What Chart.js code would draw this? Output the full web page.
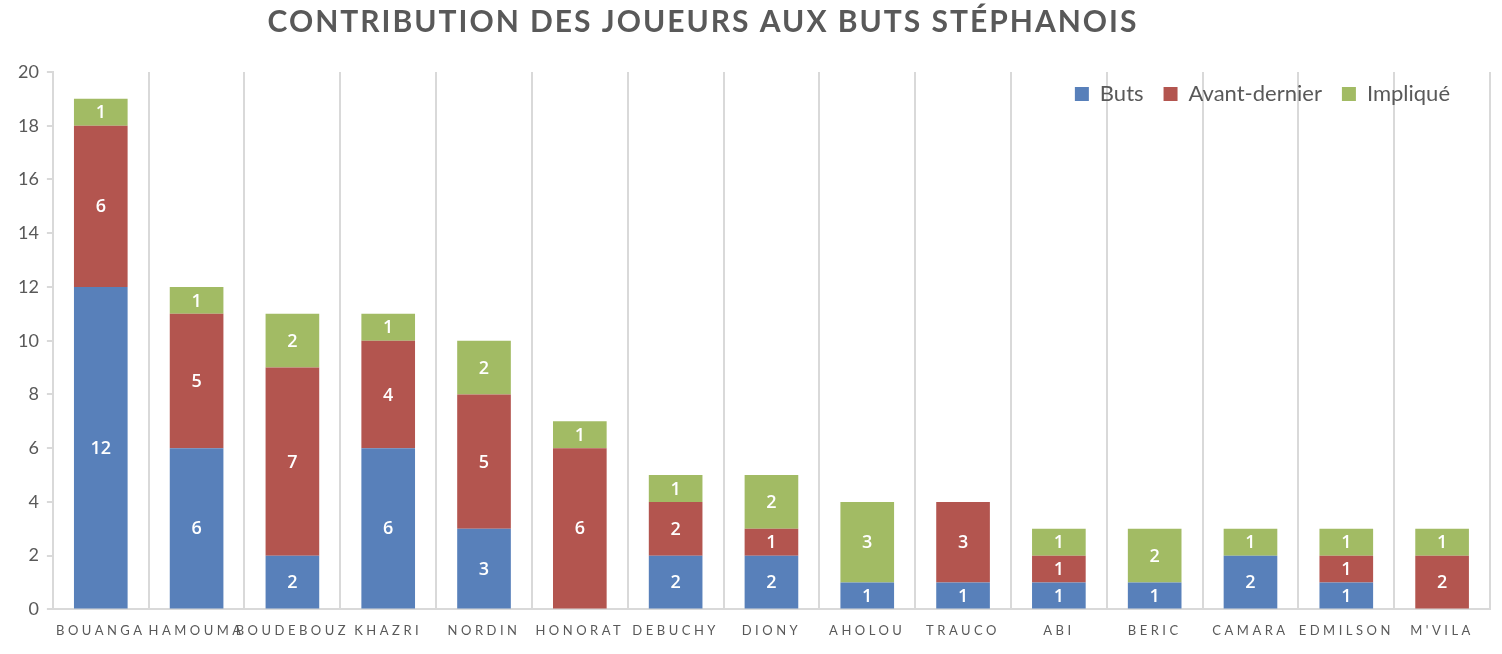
<!DOCTYPE html>
<html>
<head>
<meta charset="utf-8">
<script src="https://cdn.jsdelivr.net/npm/chart.js@4.4.1/dist/chart.umd.min.js"></script>
<style>
  html, body { margin: 0; padding: 0; background: #fff; }
  #wrap { width: 1502px; height: 654px; }
</style>
</head>
<body>
<div id="wrap"><canvas id="myChart"></canvas></div>
<script>
// chart data
const players = ["BOUANGA", "HAMOUMA", "BOUDEBOUZ", "KHAZRI", "NORDIN", "HONORAT", "DEBUCHY",
  "DIONY", "AHOLOU", "TRAUCO", "ABI", "BERIC", "CAMARA", "EDMILSON", "M'VILA"];
const buts = [12, 6, 2, 6, 3, 0, 2, 2, 1, 1, 1, 1, 2, 1, 0];
const avantDernier = [6, 5, 7, 4, 5, 6, 2, 1, 0, 3, 1, 0, 0, 1, 2];
const implique = [1, 1, 2, 1, 2, 1, 1, 2, 3, 0, 1, 2, 1, 1, 1];
const yTicks = [0, 2, 4, 6, 8, 10, 12, 14, 16, 18, 20];

const grey = "#595959";
const lineGrey = "#d9d9d9";

// wrap a draw method so its text is drawn letter-spaced
function spaced(obj, method, spacing) {
  if (!obj || obj["_sp_" + method]) return;
  const orig = obj[method];
  obj[method] = function () {
    const ctx = this.ctx;
    const prev = ctx.letterSpacing;
    ctx.letterSpacing = spacing;
    orig.apply(this, arguments);
    ctx.letterSpacing = prev;
  };
  obj["_sp_" + method] = true;
}

// white value labels in the middle of each segment
const valueLabels = {
  id: "valueLabels",
  afterDatasetsDraw(chart) {
    const ctx = chart.ctx;
    ctx.save();
    ctx.fillStyle = "#fff";
    ctx.font = "600 18px 'Open Sans', Lato, sans-serif";
    ctx.textAlign = "center";
    ctx.textBaseline = "middle";
    chart.data.datasets.forEach((ds, i) => {
      const meta = chart.getDatasetMeta(i);
      meta.data.forEach((bar, j) => {
        const v = ds.data[j];
        if (!v) return;
        ctx.fillText(String(v), bar.x, (bar.y + bar.base) / 2 + 1);
      });
    });
    ctx.restore();
  }
};

// legend sits inside the plot, top right, without taking layout room
const legendInside = {
  id: "legendInside",
  beforeLayout(chart) {
    const lg = chart.legend;
    if (lg && !lg._patched) {
      const fit = lg.fit;
      lg.fit = function () {
        fit.call(this);
        this._realHeight = this.height;
        this.height = 0;
      };
      lg._patched = true;
    }
  },
  beforeDraw(chart) {
    const lg = chart.legend;
    const area = chart.chartArea;
    lg.top = area.top - 9;
    lg.bottom = lg.top + (lg._realHeight || 30);
    lg.left = area.left;
    lg.right = area.right - 20;
    lg.width = lg.right - lg.left;
    lg.height = lg.bottom - lg.top;
    // title is centred a bit left of the canvas middle
    const tb = chart.titleBlock;
    if (!tb._moved) {
      tb.right -= 94;
      tb._moved = true;
    }
    spaced(chart.scales.x, "drawLabels", "3.5px");
    spaced(tb, "draw", "2px");
  }
};

const data = {
  labels: players,
  datasets: [
    { label: "Buts", data: buts, backgroundColor: "#5880ba" },
    { label: "Avant-dernier", data: avantDernier, backgroundColor: "#b3554f" },
    { label: "Impliqué", data: implique, backgroundColor: "#a2bb64" }
  ]
};

const config = {
  type: "bar",
  data: data,
  options: {
    responsive: true,
    maintainAspectRatio: false,
    animation: false,
    datasets: {
      bar: { barPercentage: 0.56, categoryPercentage: 1, borderWidth: 0 }
    },
    layout: { padding: { left: 10, right: 12, bottom: 1 } },
    plugins: {
      title: {
        display: true,
        text: "CONTRIBUTION DES JOUEURS AUX BUTS STÉPHANOIS",
        color: grey,
        font: { family: "Lato, 'Open Sans', sans-serif", size: 30, weight: "bold" },
        padding: { top: 4, bottom: 32 }
      },
      legend: {
        position: "top",
        align: "end",
        labels: {
          color: grey,
          boxWidth: 14,
          boxHeight: 14,
          padding: 20,
          font: { family: "Lato, 'Open Sans', sans-serif", size: 22 }
        }
      },
      tooltip: { enabled: false }
    },
    scales: {
      x: {
        stacked: true,
        grid: { offset: true, color: lineGrey, lineWidth: 2, drawTicks: false },
        border: { color: lineGrey, width: 2 },
        ticks: {
          color: grey,
          autoSkip: false,
          maxRotation: 0,
          minRotation: 0,
          padding: 14,
          font: { family: "Lato, 'Open Sans', sans-serif", size: 13 }
        }
      },
      y: {
        stacked: true,
        min: yTicks[0],
        max: yTicks[yTicks.length - 1],
        grid: { drawOnChartArea: false, color: lineGrey, lineWidth: 2, tickLength: 6 },
        border: { color: lineGrey, width: 2 },
        afterBuildTicks(scale) {
          scale.ticks = yTicks.map(v => ({ value: v }));
        },
        ticks: {
          color: grey,
          padding: 8,
          font: { family: "Lato, 'Open Sans', sans-serif", size: 18 }
        }
      }
    }
  },
  plugins: [valueLabels, legendInside]
};

const myChart = new Chart(document.getElementById("myChart"), config);
</script>
</body>
</html>
